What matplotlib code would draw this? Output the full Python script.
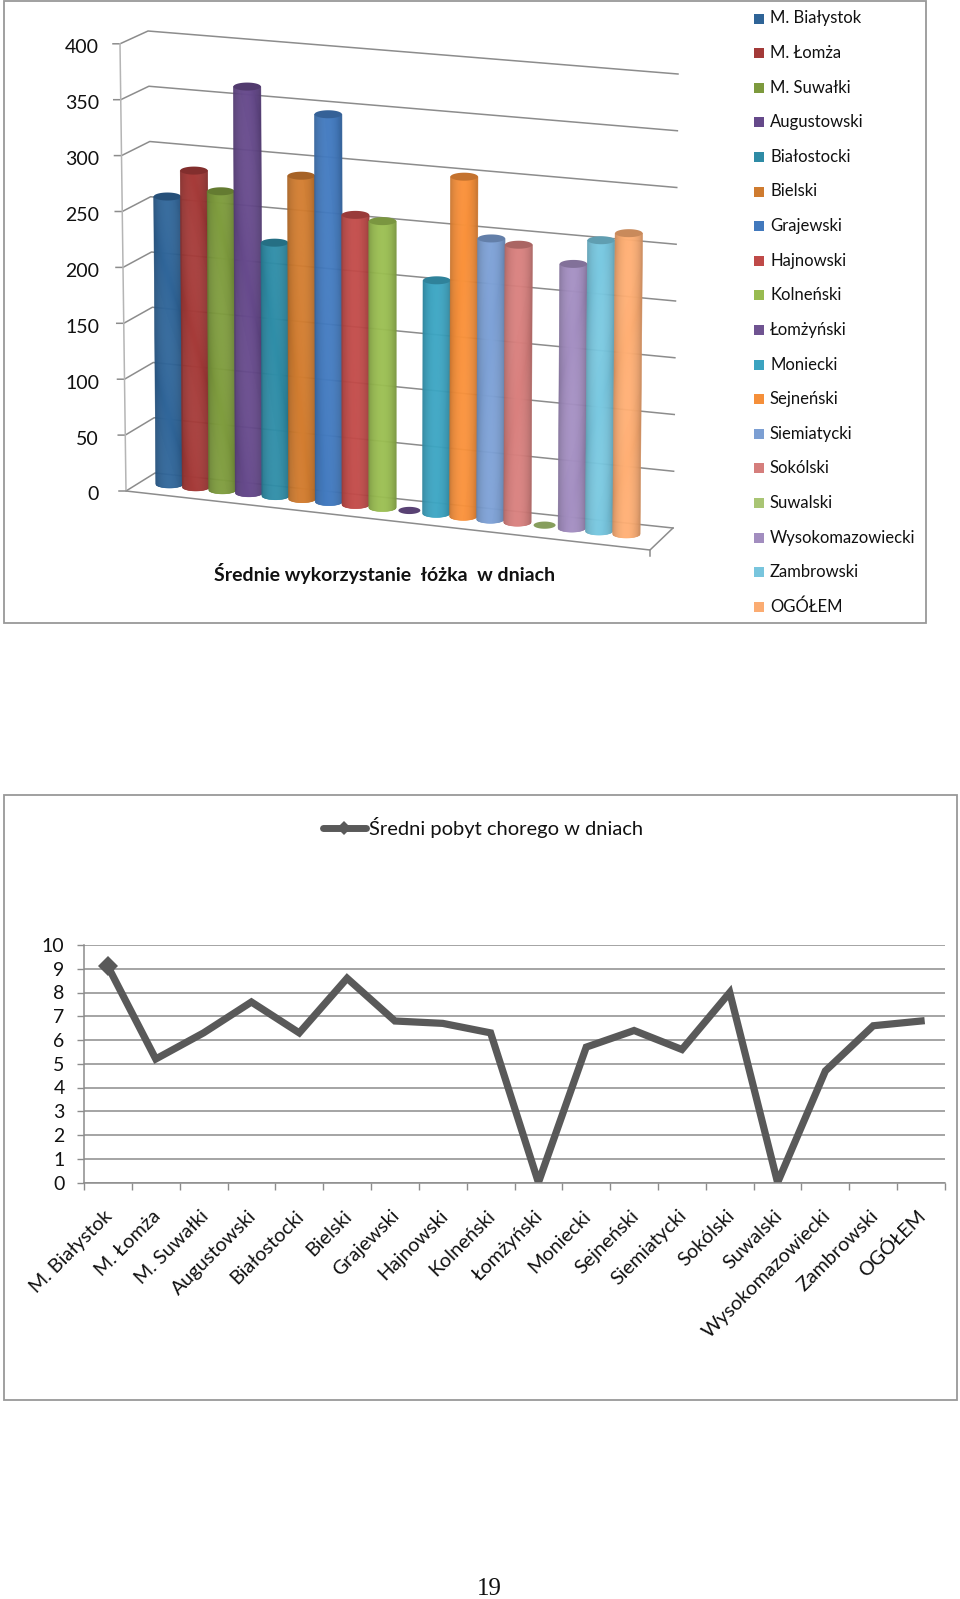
import numpy as np, matplotlib
matplotlib.use("Agg")
import matplotlib.pyplot as plt
from matplotlib.patches import Rectangle
from matplotlib.transforms import ScaledTranslation
from matplotlib.colors import to_rgb

plt.rcParams["font.family"] = ["Lato", "DejaVu Sans"]

# dane
powiaty = ["M. Białystok", "M. Łomża", "M. Suwałki", "Augustowski", "Białostocki", "Bielski",
           "Grajewski", "Hajnowski", "Kolneński", "Łomżyński", "Moniecki", "Sejneński",
           "Siemiatycki", "Sokólski", "Suwalski", "Wysokomazowiecki", "Zambrowski", "OGÓŁEM"]
wykorzystanie = [259, 285, 269, 366, 228, 291, 349, 261, 258, 0, 210, 306, 253, 250, 0, 238, 262, 271]
pobyt = [9.1, 5.2, 6.3, 7.6, 6.3, 8.6, 6.8, 6.7, 6.3, 0, 5.7, 6.4, 5.6, 8.0, 0, 4.7, 6.6, 6.8]
kolory = ["#2F6497", "#A33A38", "#7D9A3D", "#65498A", "#2E8BA5", "#CF7B2F", "#4279BD", "#BF4A48", "#98BB50",
          "#6F5391", "#3BA3C0", "#F58F3A", "#7C9FD3", "#D57E7C", "#A9C574", "#A28DBF", "#78C5DD", "#FBAC72"]
poziomy = [0, 50, 100, 150, 200, 250, 300, 350, 400]
GRID = "#8c8c8c"

fig = plt.figure(figsize=(9.6, 15.99), dpi=100)
ax = fig.add_axes([0, 0, 1, 1])
ax.set_xlim(0, 960); ax.set_ylim(1599, 0); ax.axis("off")

# ramki
for x, y, w, h in [(3.5, 1, 922.5, 622), (4, 795, 953, 605)]:
    ax.add_patch(Rectangle((x, y), w, h, fill=False, ec="#989898", lw=1.3))

# =========================================================
# wykres 3D: sciany i siatka
# =========================================================
def front(v): return 126 - 0.015*v, 491 - 1.118*v
def back_l(v): return 155 - 0.0175*v, 473 - 1.105*v
def back_r(v): return 673 + 0.0125*v, 528 - 1.135*v

for v in poziomy:
    fx, fy = front(v); lx, ly = back_l(v); rx, ry = back_r(v)
    ax.plot([fx - 7, fx, lx, rx], [fy, fy, ly, ry], color=GRID, lw=1.1)
    ax.text(99, fy + 4, str(v), ha="right", va="center", fontsize=14, color="#111111")
ax.plot(*zip(front(0), front(400)), color="#b5b5b5", lw=1.1)
ax.plot([126, 650, 673], [491, 550, 528], color=GRID, lw=1.1)
ax.plot([650, 650], [550, 556], color=GRID, lw=1.1)

# rzut perspektywiczny: (numer slupka, wartosc) -> piksele
def rzut(i, v):
    return 169.5 + 26.4*i + 0.028*i**2 + 0.001*(i - 8)*v, 484 + 2.94*i - 1.11*v

def cien(kolor, f):
    return tuple(min(1, c*f) for c in to_rgb(kolor))

R, E = 13.7, 4.0   # polosie elipsy w pikselach
PASKI = np.linspace(-1, 1, 29)
kat = np.linspace(0, 2*np.pi, 60)

for i, (v, kolor) in enumerate(zip(wykorzystanie, kolory)):
    x0, y0 = rzut(i, 0)
    if v == 0:
        ax.fill(x0 + 11*np.cos(kat), y0 + 3.6*np.sin(kat), color=cien(kolor, 0.8), lw=0, zorder=3)
        continue
    x1, y1 = rzut(i, v)
    for a, b in zip(PASKI[:-1], PASKI[1:]):
        u = np.linspace(a, b, 4)
        dol = y0 + E*np.sqrt(np.clip(1 - u**2, 0, 1))
        f = 0.78 + 0.24*np.cos(np.pi*(a + b)/4)**0.6
        c = cien(kolor, f)
        ax.fill(np.r_[x0 + R*u, x1 + R*b, x1 + R*a], np.r_[dol, y1, y1],
                fc=c, ec=c, lw=0.4, zorder=3 + i*0.01)
    ax.fill(x1 + R*np.cos(kat), y1 + E*np.sin(kat), color=cien(kolor, 0.8), lw=0, zorder=3 + i*0.01)

ax.text(385, 573, "Średnie wykorzystanie  łóżka  w dniach", ha="center", va="center",
        fontsize=14, fontweight="bold", color="#111111")

# legenda 3D
for i, (nazwa, kolor) in enumerate(zip(powiaty, kolory)):
    y = 18.5 + i*34.6
    ax.add_patch(Rectangle((754, y - 5), 10, 10, fc=kolor, ec="none"))
    ax.text(770, y, nazwa, ha="left", va="center", fontsize=12, color="#111111")

# legenda wykresu liniowego
ax.plot([323, 366], [828, 828], color="#595959", lw=5, solid_capstyle="round")
ax.plot([344], [828], marker="D", ms=7.5, color="#595959", mew=0)
ax.text(369, 827, "Średni pobyt chorego w dniach", ha="left", va="center", fontsize=14.5, color="#111111")

ax.text(489, 1589, "19", ha="center", va="center", fontsize=18, family="Liberation Serif", color="#111111")

# =========================================================
# wykres liniowy
# =========================================================
ax2 = fig.add_axes([84/960, 1 - 1182.5/1599, 861/960, 237.5/1599])
ax2.patch.set_alpha(0)
xs = np.arange(len(pobyt)) + 0.5
ax2.plot(xs, pobyt, color="#595959", lw=5.2, solid_joinstyle="miter")
ax2.plot(xs[0], pobyt[0], marker="D", ms=10, color="#595959", mew=0)
ax2.set_xlim(0, 18); ax2.set_ylim(0, 10)
ax2.set_yticks(range(11))
ax2.set_xticks(range(19)); ax2.set_xticklabels([])
ax2.set_xticks(xs, minor=True)
ax2.set_xticklabels(powiaty, minor=True, rotation=45, ha="right", va="center",
                    rotation_mode="anchor", fontsize=14.2, color="#111111")
ax2.tick_params(axis="x", which="minor", length=0, pad=22)
ax2.tick_params(axis="x", which="major", length=5, color=GRID, width=1)
ax2.tick_params(axis="y", length=5, color=GRID, width=1, pad=9, labelsize=14, labelcolor="#111111")
przes = ScaledTranslation(2/100, 0, fig.dpi_scale_trans)
for lab in ax2.get_xticklabels(minor=True):
    lab.set_transform(lab.get_transform() + przes)
ax2.grid(axis="y", color=GRID, lw=1.1)
ax2.set_axisbelow(True)
for s in ["top", "right"]:
    ax2.spines[s].set_visible(False)
for s in ["left", "bottom"]:
    ax2.spines[s].set_color(GRID); ax2.spines[s].set_linewidth(1.1)

fig.savefig("out.png", dpi=100)
